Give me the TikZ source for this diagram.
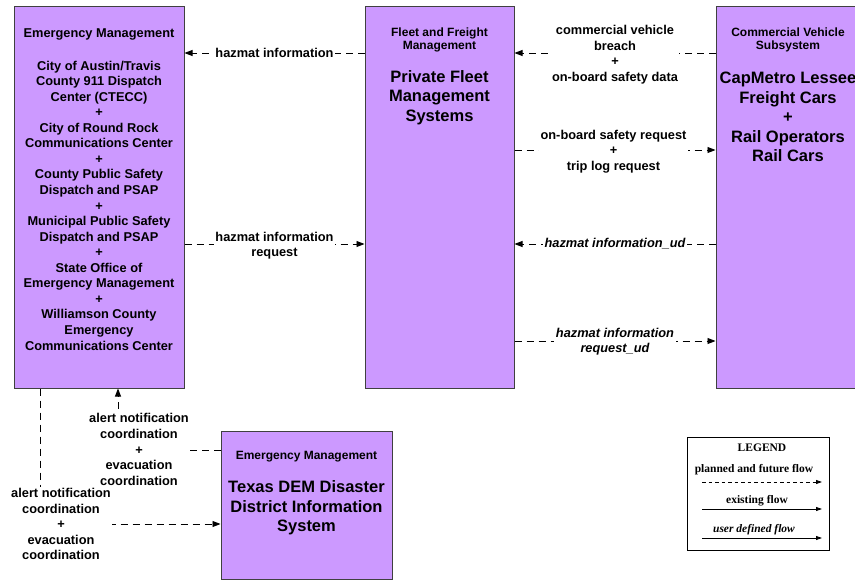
\documentclass[tikz,border=0pt]{standalone}
\usepackage{fontspec}
\setmainfont{Liberation Sans}
\newfontfamily\legendfont{Liberation Serif}
\usetikzlibrary{arrows.meta}
\definecolor{boxfill}{HTML}{CC99FF}
\definecolor{boxline}{HTML}{404040}
\tikzset{
  sysbox/.style={draw=boxline, line width=1pt, fill=boxfill, minimum width=#1, inner sep=0pt},
  boxh/.style={minimum height=#1},
  small/.style={font=\bfseries\fontsize{12}{13}\selectfont, align=center, inner sep=0pt},
  mid/.style={font=\bfseries\fontsize{12.8}{15.56}\selectfont, align=center, inner sep=0pt},
  big/.style={font=\bfseries\fontsize{16.5}{19.5}\selectfont, align=center, inner sep=0pt},
  flow/.style={draw=black, line width=0.9pt, dash pattern=on 7pt off 5pt, -{Triangle[length=8pt,width=6pt]}},
  lbl/.style={font=\bfseries\fontsize{12.8}{15.56}\selectfont, align=center, fill=white, inner sep=1.5pt},
  ilbl/.style={font=\bfseries\itshape\fontsize{12.8}{15.56}\selectfont, align=center, fill=white, inner sep=1.5pt},
  legtxt/.style={font=\legendfont\bfseries\fontsize{11.5}{13}\selectfont, inner sep=0pt},
  legarrow/.style={line width=0.8pt, -{Triangle[length=6pt,width=4pt]}},
}
\begin{document}
\begin{tikzpicture}[x=1pt,y=-1pt]
\useasboundingbox (0,0) rectangle (855,581);
\clip (0,0) rectangle (855,581);

% boxes
\node[sysbox=170, boxh=382] (em) at (99,197) {};
\node[sysbox=149, boxh=382] (fleet) at (439.5,197) {};
\node[sysbox=144, boxh=382] (cv) at (788,197) {};
\node[sysbox=171, boxh=148] (tx) at (306.5,505) {};
\node[draw=black, line width=1pt, minimum width=142, minimum height=113, inner sep=0pt] (legend) at (758,493.5) {};

% box texts
\node[mid] (emtitle) at (99,34.5) {Emergency Management};
\node[mid] (emtext) at (99,205.5) {City of Austin/Travis\\County 911 Dispatch\\Center (CTECC)\\+\\City of Round Rock\\Communications Center\\+\\County Public Safety\\Dispatch and PSAP\\+\\Municipal Public Safety\\Dispatch and PSAP\\+\\State Office of\\Emergency Management\\+\\Williamson County\\Emergency\\Communications Center};

\node[small] (fleettitle) at (439.5,39.5) {Fleet and Freight\\Management};
\node[big] (fleettext) at (439.5,97.5) {Private Fleet\\Management\\Systems};

\node[small] (cvtitle) at (788,39.5) {Commercial Vehicle\\Subsystem};
\node[big] (cvtext) at (788,117) {CapMetro Lessee\\Freight Cars\\+\\Rail Operators\\Rail Cars};

\node[small] (txtitle) at (306.5,457) {Emergency Management};
\node[big] (txtext) at (306.5,508) {Texas DEM Disaster\\District Information\\System};

% levels
\coordinate (l53) at (0,53);
\coordinate (l150) at (0,150);
\coordinate (l244) at (0,244);
\coordinate (l341) at (0,341);
\coordinate (l450) at (0,450);
\coordinate (l524) at (0,524);
\coordinate (c118) at (118,0);
\coordinate (c40) at (40,0);

% flows
\draw[flow] (fleet.west |- l53) -- node[lbl] {hazmat information} (em.east |- l53);
\draw[flow] (em.east |- l244) -- node[lbl, yshift=-1.5pt] {hazmat information\\request} (fleet.west |- l244);
\draw[flow] (cv.west |- l53) -- node[lbl, yshift=-1.5pt] {commercial vehicle\\breach\\+\\on-board safety data} (fleet.east |- l53);
\draw[flow] (fleet.east |- l150) -- node[lbl, xshift=-1.5pt, yshift=-1.5pt] {on-board safety request\\+\\trip log request} (cv.west |- l150);
\draw[flow] (cv.west |- l244) -- node[ilbl] {hazmat information\_ud} (fleet.east |- l244);
\draw[flow] (fleet.east |- l341) -- node[ilbl, yshift=-0.5pt] {hazmat information\\request\_ud} (cv.west |- l341);

\draw[flow] (tx.west |- l450) -| (em.south -| c118);
\node[lbl] (lblA) at (139,449.5) {alert notification\\coordination\\+\\evacuation\\coordination};
\draw[flow] (em.south -| c40) |- (tx.west |- l524);
\node[lbl] (lblB) at (61,524) {alert notification\\coordination\\+\\evacuation\\coordination};

% legend
\node[legtxt] (legtitle) at (762,448) {LEGEND};
\node[legtxt] (legplan) at (754,470) {planned and future flow};
\coordinate (p1a) at (702,482);
\coordinate (p1b) at (822,482);
\draw[legarrow, dash pattern=on 3.5pt off 3pt] (p1a) -- (p1b);
\node[legtxt] (legexist) at (757,501) {existing flow};
\coordinate (p2a) at (702,509);
\coordinate (p2b) at (822,509);
\draw[legarrow] (p2a) -- (p2b);
\node[legtxt, font=\legendfont\bfseries\itshape\fontsize{11.5}{13}\selectfont] (leguser) at (754,530) {user defined flow};
\coordinate (p3a) at (702,538);
\coordinate (p3b) at (822,538);
\draw[legarrow] (p3a) -- (p3b);
\end{tikzpicture}
\end{document}
